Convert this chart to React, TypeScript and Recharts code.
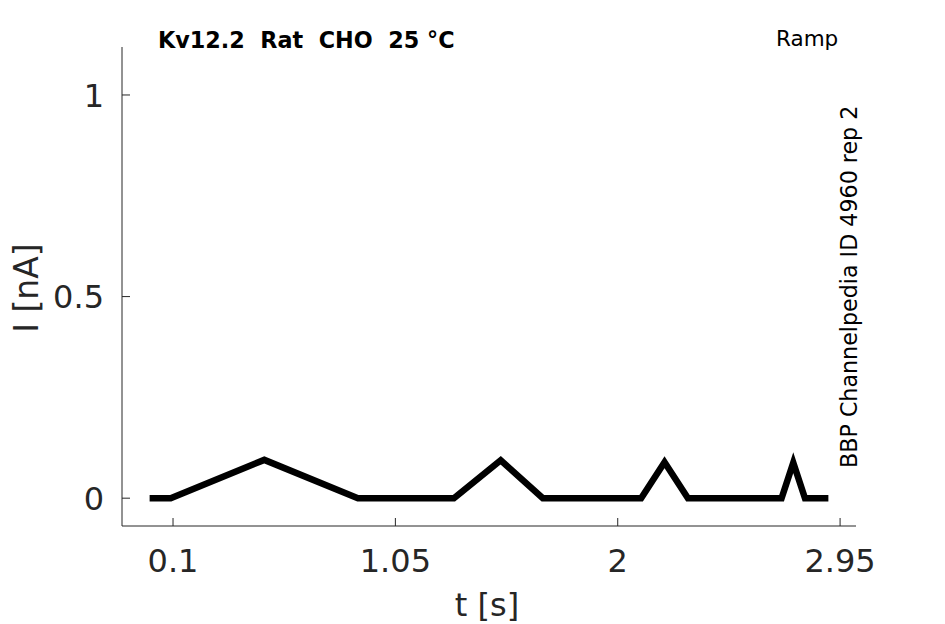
import { LineChart, Line, XAxis, YAxis } from 'recharts';

// ramp protocol trace, key points
const timeS = [0.0, 0.09, 0.49, 0.89, 1.3, 1.5, 1.68, 2.1, 2.2, 2.3, 2.7, 2.75, 2.8, 2.9];
const currentNA = [0.0, 0.0, 0.095, 0.0, 0.0, 0.094, 0.0, 0.0, 0.089, 0.0, 0.0, 0.088, 0.0, 0.0];
const xTicks = [0.1, 1.05, 2, 2.95];
const yTicks = [0, 0.5, 1];

const trace = timeS.map((t, i) => ({ t, i: currentNA[i] }));

const FONT = 'DejaVu Sans';
const INK = '#262626';

const XTick = ({ x, y, payload }: any) => (
  <g>
    <line x1={x} x2={x} y1={y} y2={y - 8} stroke={INK} strokeWidth={1} />
    <text x={x} y={y + 46} textAnchor="middle" fontSize={32} fontFamily={FONT} fill={INK}>
      {String(payload.value)}
    </text>
  </g>
);

const YTick = ({ x, y, payload }: any) => (
  <g>
    <line x1={x} x2={x + 8} y1={y} y2={y} stroke={INK} strokeWidth={1} />
    <text x={x - 18} y={y} dy="0.36em" textAnchor="end" fontSize={32} fontFamily={FONT} fill={INK}>
      {String(payload.value)}
    </text>
  </g>
);

export default function App() {
  return (
    <div style={{ position: 'absolute', left: 0, top: 0, width: 945, height: 624, background: '#fff' }}>
      <LineChart
        width={945}
        height={624}
        data={trace}
        margin={{ top: 47, right: 89, bottom: 0, left: 0 }}
      >
        <XAxis
          dataKey="t"
          type="number"
          domain={[-0.118, 3.018]}
          ticks={xTicks}
          allowDataOverflow
          height={98}
          tickSize={0}
          tickMargin={0}
          tickLine={false}
          axisLine={{ stroke: INK, strokeWidth: 1 }}
          tick={<XTick />}
          interval={0}
        />
        <YAxis
          type="number"
          domain={[-0.069, 1.119]}
          ticks={yTicks}
          allowDataOverflow
          width={122}
          tickSize={0}
          tickMargin={0}
          tickLine={false}
          axisLine={{ stroke: INK, strokeWidth: 1 }}
          tick={<YTick />}
          interval={0}
        />
        <Line
          type="linear"
          dataKey="i"
          stroke="#000"
          strokeWidth={6.5}
          strokeLinejoin="miter"
          dot={false}
          activeDot={false}
          isAnimationActive={false}
        />
      </LineChart>
      <svg
        width={945}
        height={624}
        style={{ position: 'absolute', left: 0, top: 0, pointerEvents: 'none' }}
      >
        <text x={158} y={48} fontSize={22.3} fontWeight="bold" fontFamily={FONT} fill="#000">
          {'Kv12.2\u00a0\u00a0Rat\u00a0\u00a0CHO\u00a0\u00a025 °C'}
        </text>
        <text x={776} y={46} fontSize={21.5} fontFamily={FONT} fill="#000">
          Ramp
        </text>
        <text
          x={0}
          y={0}
          transform="translate(857,468) rotate(-90)"
          fontSize={22.2}
          fontFamily={FONT}
          fill="#000"
        >
          BBP Channelpedia ID 4960 rep 2
        </text>
        <text
          x={0}
          y={0}
          transform="translate(38,288) rotate(-90)"
          textAnchor="middle"
          fontSize={33}
          fontFamily={FONT}
          fill={INK}
        >
          I [nA]
        </text>
        <text x={487} y={616} textAnchor="middle" fontSize={32} fontFamily={FONT} fill={INK}>
          t [s]
        </text>
      </svg>
    </div>
  );
}
